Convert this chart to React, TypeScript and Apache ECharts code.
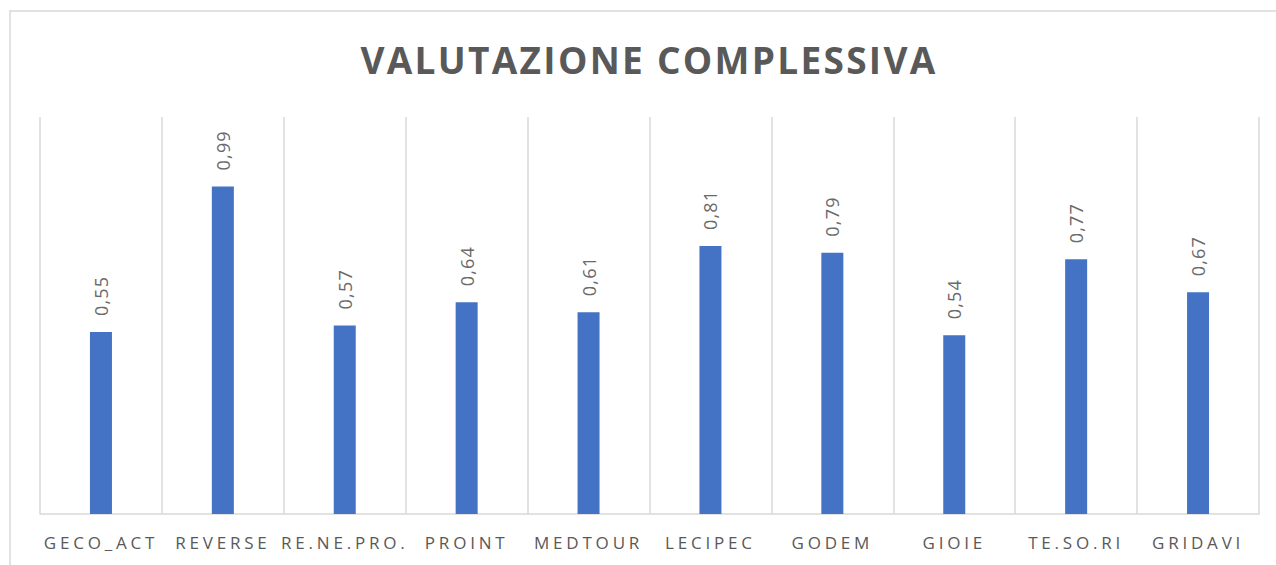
import React, { useEffect, useRef } from "react";
import * as echarts from "echarts";

const categories = ["GECO_ACT", "REVERSE", "RE.NE.PRO.", "PROINT", "MEDTOUR", "LECIPEC", "GODEM", "GIOIE", "TE.SO.RI", "GRIDAVI"];
const values = [0.55, 0.99, 0.57, 0.64, 0.61, 0.81, 0.79, 0.54, 0.77, 0.67];
const chartTitle = "VALUTAZIONE COMPLESSIVA";

const FONT = "'Open Sans', 'DejaVu Sans', sans-serif";

export default function App() {
  const ref = useRef<HTMLDivElement>(null);

  useEffect(() => {
    if (!ref.current) return;
    const chart = echarts.init(ref.current, undefined, { renderer: "svg" });
    chart.setOption({
      animation: false,
      backgroundColor: "#ffffff",
      title: {
        text: chartTitle,
        left: 644,
        textAlign: "center",
        top: 36,
        textStyle: { fontFamily: FONT, fontSize: 37, fontWeight: "bold", color: "#595959" },
      },
      graphic: [
        {
          type: "rect",
          shape: { x: 10, y: 11, width: 1300, height: 600 },
          style: { fill: "none", stroke: "#d9d9d9", lineWidth: 1.5 },
          silent: true,
        },
      ],
      grid: { left: 40, right: 17, top: 117, bottom: 51, containLabel: false },
      xAxis: {
        type: "category",
        data: categories,
        boundaryGap: true,
        axisLine: { show: true, lineStyle: { color: "#d9d9d9", width: 1.5 } },
        axisTick: { show: false },
        splitLine: { show: true, lineStyle: { color: "#d9d9d9", width: 1.5 } },
        axisLabel: {
          interval: 0,
          margin: 20,
          fontFamily: FONT,
          fontSize: 17,
          color: "#595959",
        },
      },
      yAxis: {
        type: "value",
        min: 0,
        max: 1.2,
        show: false,
        splitLine: { show: false },
      },
      series: [
        {
          type: "bar",
          data: values,
          barWidth: 22,
          itemStyle: { color: "#4472C4" },
          label: {
            show: true,
            position: "top",
            rotate: 90,
            align: "left",
            verticalAlign: "middle",
            distance: 16,
            fontFamily: FONT,
            fontSize: 18,
            color: "#6a6a6a",
            formatter: (p: any) => p.value.toFixed(2).replace(".", ","),
          },
        },
      ],
    });

    const applySpacing = () => {
      const texts = ref.current?.querySelectorAll("text");
      texts?.forEach((t) => {
        const fs = parseFloat(getComputedStyle(t).fontSize);
        let ls = 0;
        if (fs >= 30) ls = 2.3;
        else if (fs === 17) ls = 3.8;
        else if (fs === 18) ls = 1.2;
        (t as SVGTextElement).style.letterSpacing = ls + "px";
      });
    };
    applySpacing();

    return () => chart.dispose();
  }, []);

  return (
    <div
      ref={ref}
      style={{ position: "fixed", left: 0, top: 0, width: 1276, height: 565, background: "#fff" }}
    />
  );
}
